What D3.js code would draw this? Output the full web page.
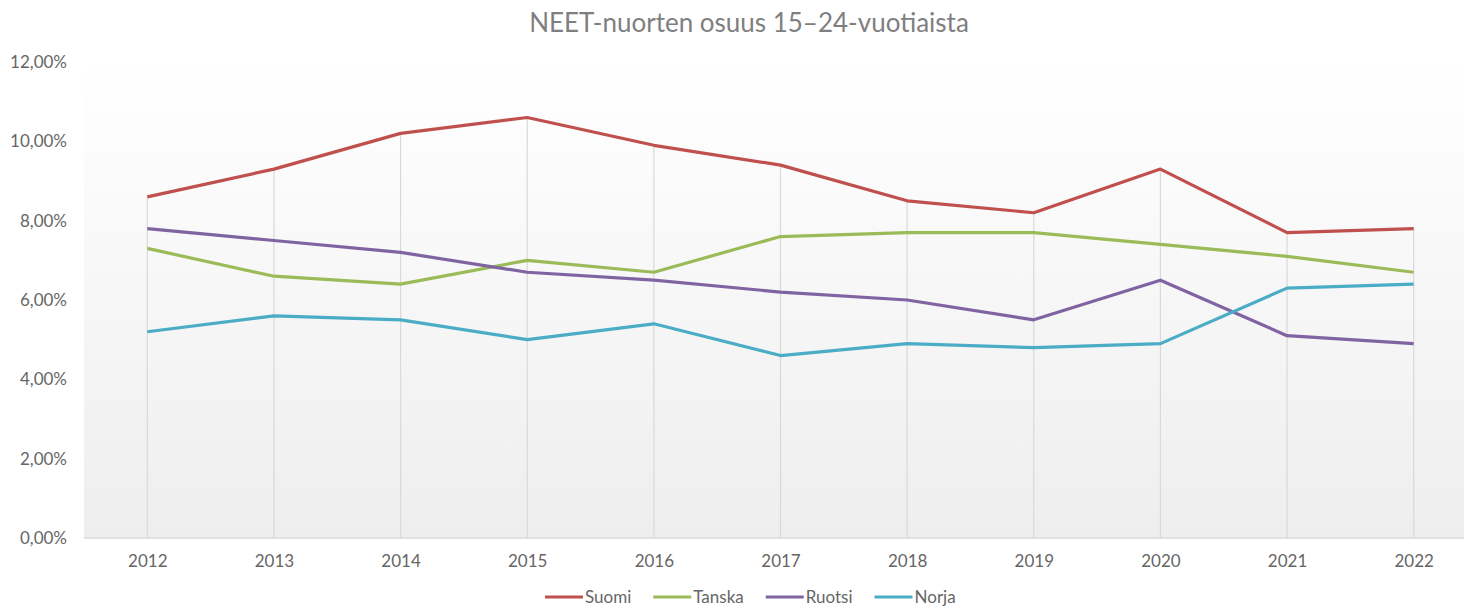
<!DOCTYPE html>
<html>
<head>
<meta charset="utf-8">
<script src="https://cdn.jsdelivr.net/npm/d3@7"></script>
<style>
  body { margin: 0; background: #fff; }
  text { font-family: Lato, "Open Sans", sans-serif; }
</style>
</head>
<body>
<div id="chart-area"></div>
<script>
// Data
var years = ["2012", "2013", "2014", "2015", "2016", "2017", "2018", "2019", "2020", "2021", "2022"];
var suomi  = [8.6, 9.3, 10.2, 10.6, 9.9, 9.4, 8.5, 8.2, 9.3, 7.7, 7.8];
var tanska = [7.3, 6.6, 6.4, 7.0, 6.7, 7.6, 7.7, 7.7, 7.4, 7.1, 6.7];
var ruotsi = [7.8, 7.5, 7.2, 6.7, 6.5, 6.2, 6.0, 5.5, 6.5, 5.1, 4.9];
var norja  = [5.2, 5.6, 5.5, 5.0, 5.4, 4.6, 4.9, 4.8, 4.9, 6.3, 6.4];
var yTicks = [0, 2, 4, 6, 8, 10, 12];

var series = [
  { name: "Suomi",  values: suomi,  color: "#C0504D" },
  { name: "Tanska", values: tanska, color: "#9BBB59" },
  { name: "Ruotsi", values: ruotsi, color: "#8064A2" },
  { name: "Norja",  values: norja,  color: "#4BACC6" }
];

var width = 1464, height = 609;
var plot = { left: 84, right: 1477, top: 62, bottom: 538 };

var svg = d3.select("#chart-area").append("svg")
  .attr("width", width)
  .attr("height", height);

// background gradient for plot area
var defs = svg.append("defs");
var grad = defs.append("linearGradient")
  .attr("id", "bg")
  .attr("x1", 0).attr("y1", 0).attr("x2", 0).attr("y2", 1);
grad.append("stop").attr("offset", "0%").attr("stop-color", "#ffffff");
grad.append("stop").attr("offset", "100%").attr("stop-color", "#eeeeee");

svg.append("rect")
  .attr("x", plot.left)
  .attr("y", plot.top)
  .attr("width", plot.right - plot.left)
  .attr("height", plot.bottom - plot.top)
  .attr("fill", "url(#bg)");

// Scales
var x = d3.scalePoint().domain(years).range([plot.left, plot.right]).padding(0.5);
var y = d3.scaleLinear().domain([0, 12]).range([plot.bottom, plot.top]);

var fmt = function(d) { return d3.format(".2f")(d).replace(".", ",") + "%"; };

// Title
svg.append("text")
  .attr("x", 749)
  .attr("y", 32)
  .attr("text-anchor", "middle")
  .attr("font-size", "26px")
  .attr("fill", "#7f7f7f")
  .text("NEET-nuorten osuus 15–24-vuotiaista");

// drop lines (from highest value to the axis)
svg.append("g").selectAll("line")
  .data(years)
  .enter().append("line")
  .attr("x1", function(d) { return x(d); })
  .attr("x2", function(d) { return x(d); })
  .attr("y1", function(d, i) { return y(d3.max(series, function(s) { return s.values[i]; })); })
  .attr("y2", y(0))
  .attr("stroke", "#d9d9d9")
  .attr("stroke-width", 1.2);

// Axis line
svg.append("line")
  .attr("x1", plot.left).attr("x2", plot.right)
  .attr("y1", y(0)).attr("y2", y(0))
  .attr("stroke", "#d9d9d9")
  .attr("stroke-width", 1.5);

// Y axis
var yAxis = svg.append("g")
  .attr("transform", "translate(" + 67 + ",0)")
  .call(d3.axisLeft(y).tickValues(yTicks).tickFormat(fmt).tickSize(0).tickPadding(0));
yAxis.select(".domain").remove();
yAxis.selectAll("text")
  .attr("font-size", "17px")
  .attr("font-family", "Lato, 'Open Sans', sans-serif")
  .attr("fill", "#666");

// X axis
var xAxis = svg.append("g")
  .attr("transform", "translate(0," + y(0) + ")")
  .call(d3.axisBottom(x).tickSize(0).tickPadding(17));
xAxis.select(".domain").remove();
xAxis.selectAll("text")
  .attr("font-size", "17px")
  .attr("font-family", "Lato, 'Open Sans', sans-serif")
  .attr("fill", "#666");

// Lines
var line = d3.line()
  .x(function(d, i) { return x(years[i]); })
  .y(function(d) { return y(d); });

svg.append("g").selectAll("path")
  .data(series)
  .enter().append("path")
  .attr("fill", "none")
  .attr("stroke", function(d) { return d.color; })
  .attr("stroke-width", 3.2)
  .attr("stroke-linejoin", "round")
  .attr("d", function(d) { return line(d.values); });

// Legend
var legend = svg.append("g");
var lx = 545, ly = 597;
series.forEach(function(s) {
  legend.append("line")
    .attr("x1", lx).attr("x2", lx + 38)
    .attr("y1", ly).attr("y2", ly)
    .attr("stroke", s.color)
    .attr("stroke-width", 3.2);
  var t = legend.append("text")
    .attr("x", lx + 40)
    .attr("y", ly + 6)
    .attr("font-size", "17px")
    .attr("fill", "#666")
    .text(s.name);
  lx += 40 + t.node().getComputedTextLength() + 22;
});
</script>
</body>
</html>
